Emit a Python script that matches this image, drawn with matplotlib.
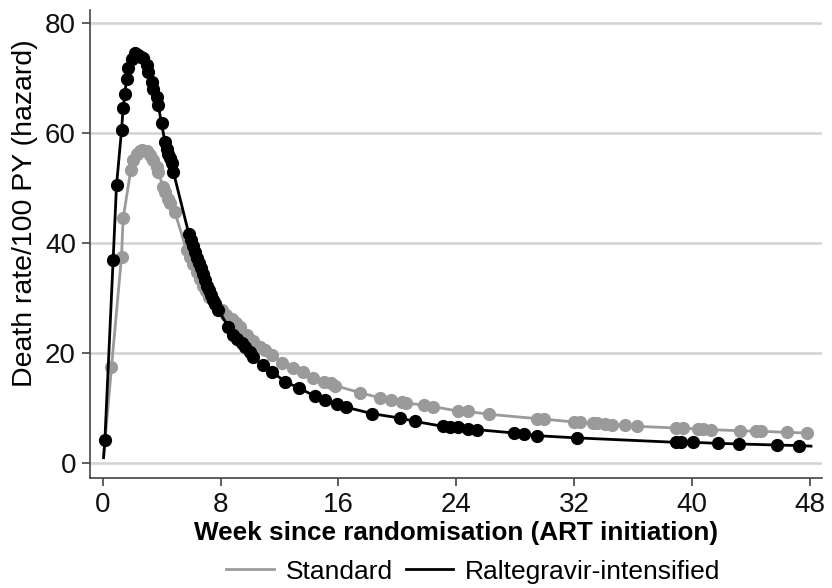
import matplotlib.pyplot as plt

# Tasa de muerte estimada (hazard) por semana
std_week = [0.59, 1.27, 1.38, 1.9, 2.06, 2.29, 2.5, 2.63, 2.97, 3.2, 3.42, 3.65, 3.76,
            4.1, 4.22, 4.44, 4.56, 4.9, 5.69, 5.92, 6.14, 6.37, 6.6, 6.8, 7.0, 7.2,
            7.62, 8.07, 8.4, 8.75, 9.05, 9.32, 9.78, 10.2, 10.68, 11.0, 11.5, 12.2,
            12.9, 13.6, 14.3, 15.0, 15.5, 15.8, 17.5, 18.8, 19.6, 20.3, 20.6, 21.8,
            22.4, 24.1, 24.8, 26.2, 29.5, 30.0, 32.0, 32.4, 33.3, 33.6, 34.1, 34.6,
            35.5, 36.3, 38.9, 39.4, 40.4, 40.8, 41.3, 43.3, 44.4, 44.7, 46.5, 47.8]
std_rate = [17.5, 37.5, 44.5, 53.3, 55.1, 56.3, 56.8, 56.9, 56.8, 56.0, 55.1, 53.9, 53.0,
            50.2, 49.3, 48.1, 47.3, 45.6, 38.7, 37.5, 36.3, 34.8, 33.4, 32.3, 31.3, 30.3,
            29.2, 27.8, 27.0, 26.3, 25.5, 24.8, 23.3, 22.3, 21.2, 20.5, 19.6, 18.3,
            17.3, 16.5, 15.4, 14.7, 14.5, 14.1, 12.8, 11.9, 11.5, 11.1, 10.9, 10.6,
            10.3, 9.5, 9.4, 8.9, 8.1, 8.0, 7.5, 7.5, 7.3, 7.3, 7.1, 7.0,
            6.9, 6.7, 6.4, 6.4, 6.2, 6.2, 6.1, 5.9, 5.8, 5.8, 5.6, 5.5]

ral_week = [0.14, 0.70, 0.93, 1.27, 1.38, 1.5, 1.61, 1.72, 1.95, 2.18, 2.4, 2.6, 2.74,
            2.97, 3.08, 3.31, 3.42, 3.65, 3.76, 3.99, 4.22, 4.33, 4.44, 4.56, 4.67, 4.79,
            5.85, 5.99, 6.12, 6.26, 6.39, 6.53, 6.67, 6.8, 6.94, 7.08, 7.21, 7.35, 7.48,
            7.62, 7.85, 8.53, 8.87, 9.1, 9.43, 9.66, 10.0, 10.2, 10.9, 11.5, 12.4, 13.3,
            14.4, 15.1, 15.9, 16.5, 18.3, 20.2, 21.2, 23.1, 23.6, 24.1, 24.8, 25.4,
            27.9, 28.6, 29.5, 32.2, 38.9, 39.3, 40.1, 41.8, 43.2, 45.8, 47.3]
ral_rate = [4.2, 36.9, 50.5, 60.5, 64.5, 67.2, 69.9, 71.8, 73.5, 74.5, 74.2, 73.9, 73.6,
            72.4, 71.1, 69.3, 68.1, 66.6, 65.1, 61.8, 58.4, 57.2, 56.3, 55.4, 54.5, 53.0,
            41.6, 40.5, 39.5, 38.4, 37.3, 36.4, 35.5, 34.4, 33.3, 32.2, 31.5, 30.5, 29.6,
            28.9, 27.8, 24.8, 23.3, 22.6, 21.8, 21.1, 20.3, 19.3, 17.8, 16.6, 14.8, 13.7,
            12.2, 11.5, 10.8, 10.2, 9.0, 8.2, 7.6, 6.7, 6.6, 6.5, 6.2, 6.1,
            5.5, 5.3, 5.0, 4.6, 3.8, 3.8, 3.8, 3.6, 3.5, 3.3, 3.2]

# inicio y final de las curvas (sin marcador)
curve_start = (0.05, 1.0)
ral_end = (48.1, 3.1)

x_ticks = [0, 8, 16, 24, 32, 40, 48]
y_ticks = [0, 20, 40, 60, 80]

GRIS = '#9a9a9a'
NEGRO = '#000000'

plt.rcParams['font.family'] = ['Liberation Sans', 'DejaVu Sans']

fig = plt.figure(figsize=(8.32, 5.88), dpi=100)
ax = fig.add_axes([0.108, 0.187, 0.88, 0.796])

ax.plot([curve_start[0]] + std_week, [curve_start[1]] + std_rate,
        color=GRIS, lw=2, zorder=3, label='Standard')
ax.plot(std_week, std_rate, 'o', color=GRIS, ms=8.5, zorder=3)
ax.plot([curve_start[0]] + ral_week + [ral_end[0]],
        [curve_start[1]] + ral_rate + [ral_end[1]],
        color=NEGRO, lw=2, zorder=4, label='Raltegravir-intensified')
ax.plot(ral_week, ral_rate, 'o', color=NEGRO, ms=8.5, zorder=4)

ax.set_xlim(-0.88, 48.85)
ax.set_ylim(-2.7, 82.4)
ax.set_xticks(x_ticks)
ax.set_yticks(y_ticks)
ax.yaxis.grid(True, color='#d2d2d2', lw=1.8)
ax.set_axisbelow(True)

for s in ['top', 'right']:
    ax.spines[s].set_visible(False)
for s in ['left', 'bottom']:
    ax.spines[s].set_color('#444444')
    ax.spines[s].set_linewidth(1.2)
ax.tick_params(direction='out', length=6, width=1.2, color='#444444',
               labelsize=20, labelcolor='#111111', pad=4)

ax.set_xlabel('Week since randomisation (ART initiation)', fontsize=18.8,
              fontweight='bold', labelpad=2)
ax.set_ylabel('Death rate/100 PY (hazard)', fontsize=20.5)
ax.yaxis.set_label_coords(-0.071, 0.565)

fig.legend(loc='center', bbox_to_anchor=(0.569, 0.028), ncol=2, frameon=False,
           fontsize=19, handlelength=1.8, columnspacing=0.5, handletextpad=0.45,
           borderpad=0.1)

fig.savefig('out.png', dpi=100)
